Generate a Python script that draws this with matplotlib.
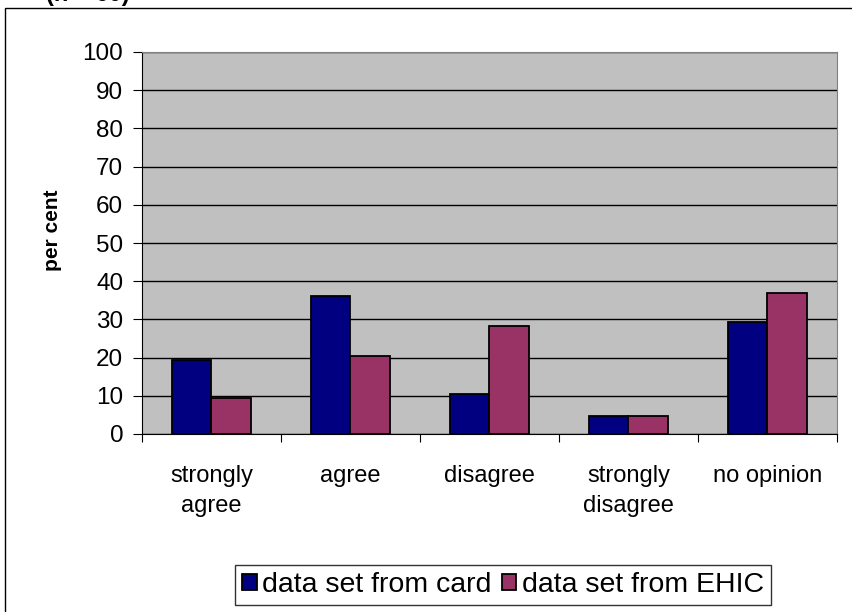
import numpy as np
import matplotlib
matplotlib.use("Agg")
import matplotlib.pyplot as plt
from matplotlib.patches import Rectangle

plt.rcParams['font.family'] = ['Liberation Sans', 'DejaVu Sans']

# data
categories = ["strongly\nagree", "agree", "disagree", "strongly\ndisagree", "no opinion"]
card = [19.5, 36.2, 10.5, 4.8, 29.3]
ehic = [9.5, 20.5, 28.3, 4.8, 36.8]
series_names = ["data set from card", "data set from EHIC"]
yticks = list(range(0, 101, 10))

fig = plt.figure(figsize=(8.53, 6.12), dpi=100)
ax = fig.add_axes([142/853, 1-434/612, (837-142)/853, (434-52)/612])
ax.set_facecolor("#C0C0C0")

x = np.arange(len(categories))
w = 1 / 3.5  # excel gap width 150 %
ax.bar(x - w/2, card, w, color="#000080", edgecolor="black", linewidth=1.3,
       label=series_names[0], zorder=3)
ax.bar(x + w/2, ehic, w, color="#993366", edgecolor="black", linewidth=1.3,
       label=series_names[1], zorder=3)

ax.set_xlim(-0.5, len(categories) - 0.5)
ax.set_ylim(0, 100)
ax.set_yticks(yticks)
ax.yaxis.grid(True, color="black", linewidth=1, zorder=1)
ax.tick_params(axis="y", labelsize=17.5, length=6.5, direction="out", pad=7)

# x ticks at category boundaries, labels centred under categories
ax.set_xticks(np.arange(-0.5, len(categories)), minor=False)
ax.set_xticklabels([])
ax.tick_params(axis="x", length=6, direction="out")
ax.set_xticks(x, minor=True)
ax.set_xticklabels(categories, minor=True, fontsize=17, linespacing=1.5)
ax.tick_params(axis="x", which="minor", length=0, pad=22)

for s in ["top", "right"]:
    ax.spines[s].set_color("#808080")
ax.spines["left"].set_color("black")
ax.spines["bottom"].set_color("black")

ax.set_ylabel("per cent", fontsize=15, fontweight="bold")
ax.yaxis.set_label_coords((62 - 142) / 695, 0.534)

# outer chart frame (left and top edges visible)
fig.patches.append(Rectangle((5/853, -0.05), 1.1, 1 - 8/612 + 0.05,
                             transform=fig.transFigure, fill=False,
                             edgecolor="black", linewidth=1))

# title, cut off at the very top as in the source
fig.text(88/853, 1 + 5/612, "(n = 60)", fontsize=17, fontweight="bold",
         ha="center", va="center")

leg = fig.legend(loc="center", bbox_to_anchor=(503/853, 1 - 585/612), ncol=2,
                 fontsize=20.5, frameon=True, fancybox=False, handlelength=0.5,
                 handleheight=0.5, handletextpad=0.2, columnspacing=0.35,
                 borderpad=0.25, borderaxespad=0)
leg.get_frame().set_edgecolor("black")
leg.get_frame().set_linewidth(1)

fig.savefig("out.png", dpi=100)
